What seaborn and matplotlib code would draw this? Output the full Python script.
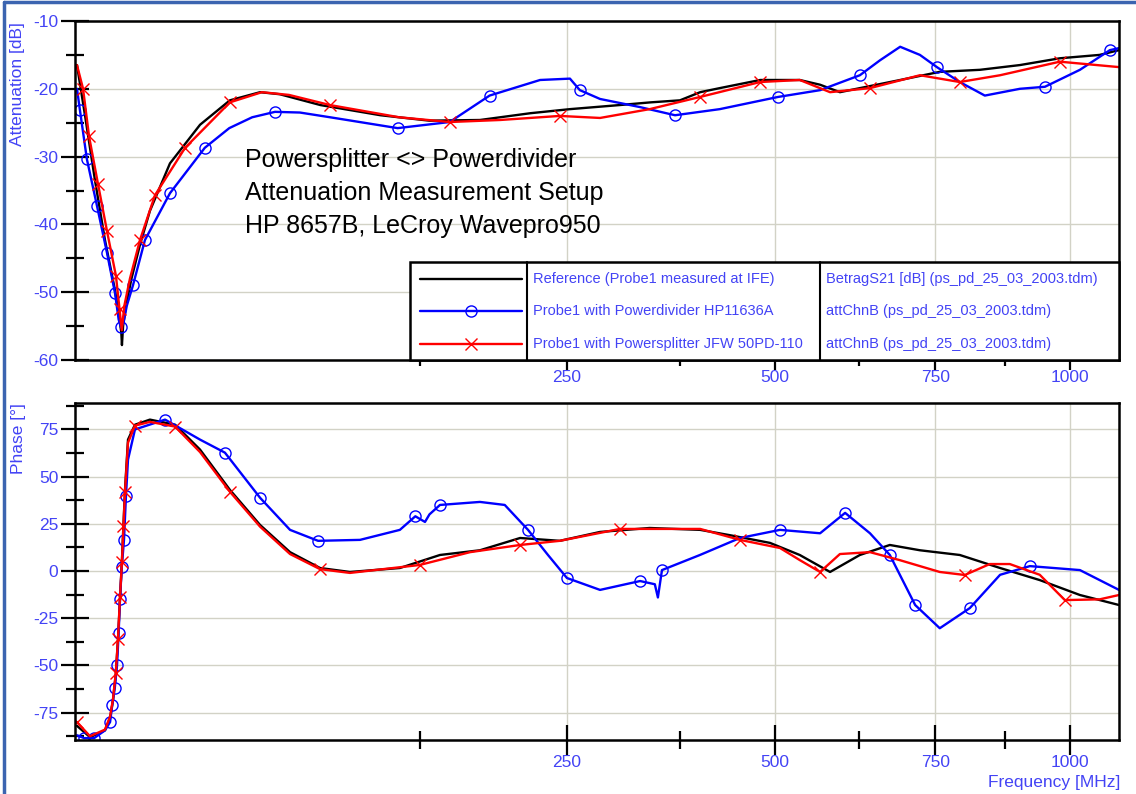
import numpy as np
import pandas as pd
import matplotlib
matplotlib.use("Agg")
import matplotlib.pyplot as plt
import seaborn as sns
from matplotlib.lines import Line2D
from matplotlib.patches import Rectangle
from matplotlib.ticker import FixedLocator, NullFormatter

sns.set_theme(style="white")
plt.rcParams["font.family"] = ["Liberation Sans", "DejaVu Sans"]
plt.rcParams["axes.unicode_minus"] = False

# ---------------- data (frequency in MHz) ----------------
att_ref_f = [0.167, 0.44, 0.95, 1.66, 2.57, 3.0, 3.25, 3.32, 3.45, 3.8, 4.5, 5.71, 7.3, 11.1, 18.3, 27.2, 38, 46, 65, 99,
             132, 171, 215, 253, 305, 340, 375, 400, 425, 479, 535, 565, 595, 626, 691, 758, 829, 903, 980, 1060, 1100]
att_ref_db = [-16.5, -24, -33.5, -42.3, -49.7, -53.5, -56, -57.8, -55, -52, -48, -43, -38, -31, -25.3, -21.7, -20.5, -20.8, -22.4, -23.9,
              -24.7, -24.6, -23.6, -23, -22.4, -22, -21.7, -20.5, -19.9, -18.7, -18.7, -19.4, -20.5, -19.9, -18.7, -17.5, -17.2, -16.5, -15.5, -15, -14.3]

att_pd_f = [0.167, 0.25, 0.52, 1.08, 1.83, 2.57, 2.95, 3.2, 3.5, 3.9, 4.7, 6.48, 11.1, 19.6, 27, 35, 44, 55, 70, 110,
            147, 179, 224, 253, 263, 284, 328, 369, 425, 504, 565, 626, 658, 691, 724, 753, 793, 838, 903, 951, 1020, 1081, 1100]
att_pd_db = [-20, -23.1, -30.4, -37.3, -44.2, -50.1, -54, -55.2, -54.5, -52, -49, -42.3, -35.4, -28.7, -25.8, -24.2, -23.4, -23.5, -24.2, -25.8,
             -24.9, -21, -18.7, -18.5, -20.2, -21.5, -22.7, -23.9, -23, -21.2, -20.2, -18, -15.8, -13.8, -15, -16.8, -19, -21, -20, -19.7, -17.2, -14.3, -14]
att_pd_marks = [0.25, 0.52, 1.08, 1.83, 2.57, 3.2, 4.7, 6.48, 11.1, 19.6, 44, 110, 179, 263, 369, 504, 626, 753, 951, 1081]

att_ps_f = [0.167, 0.36, 0.62, 1.14, 1.83, 2.67, 3.05, 3.3, 3.6, 4.3, 5.71, 8.18, 14.5, 27.2, 38.7, 50, 70, 111, 147, 188,
            243, 284, 339, 400, 479, 535, 580, 642, 724, 793, 866, 980, 1100]
att_ps_db = [-16.5, -20, -27, -34, -41, -47.6, -52.5, -55.6, -52, -48, -42.3, -35.7, -28.7, -22, -20.5, -20.9, -22.4, -24.2, -24.9, -24.6,
             -24, -24.3, -23, -21.2, -19, -18.7, -20.5, -19.9, -18, -19, -18, -16, -16.8]
att_ps_marks = [0.36, 0.62, 1.14, 1.83, 2.67, 3.05, 5.71, 8.18, 14.5, 27.2, 70, 147, 243, 400, 479, 642, 793, 980]

ph_ref_f = [0.167, 0.668, 1.66, 2.1, 2.37, 2.65, 2.88, 3.1, 3.32, 3.5, 3.68, 4.05, 4.98, 7.3, 12.2, 18.3, 27.2, 38, 50.5, 64.8,
            80.8, 111.5, 139.7, 171, 205.6, 243, 284, 339, 400, 438, 492.6, 535, 580, 626, 674, 724, 793, 866, 941, 1020, 1100]
ph_ref_deg = [-82, -88, -84.4, -78, -68.5, -55, -36.6, -15, 5.8, 25, 43, 69.6, 77.5, 80.2, 77.5, 64.3, 43, 24.4, 10, 1.6,
              -0.5, 1.6, 8.5, 11, 17.5, 16, 20.7, 22.8, 21.8, 19, 14.9, 8.5, -0.5, 8.5, 13.8, 11, 8.5, 1.6, -4.8, -12.7, -18]

ph_pd_f = [0.167, 0.4, 0.9, 1.66, 2.1, 2.3, 2.55, 2.78, 2.95, 3.1, 3.3, 3.56, 3.8, 4.05, 4.98, 10.1, 18.3, 25.6, 38, 50.5,
           63.8, 86.6, 111.5, 122, 128.8, 132, 139.7, 171, 192, 212.8, 231.5, 250, 284, 328, 345, 348.6, 353.4, 399.7, 451.6, 506.6,
           565, 603, 642, 674, 716, 758, 811, 866, 922, 1020, 1100]
ph_pd_deg = [-87, -88.5, -88.5, -84.4, -80, -71, -62, -50, -33, -15, 2, 16.5, 40, 59, 75, 80.2, 69.6, 62.7, 38.8, 21.8,
             16, 16.5, 21.8, 29, 26, 30, 35, 36.6, 35, 21.8, 8.5, -3.7, -10, -5.3, -7, -14, 0.5, 8.5, 17.5, 21.8,
             20, 30.8, 20, 8.5, -18, -30.3, -19.6, -2, 2.6, 0.5, -10]
ph_pd_marks = [0.4, 0.9, 2.1, 2.3, 2.55, 2.78, 2.95, 3.1, 3.3, 3.56, 3.8, 10.1, 25.6, 38, 63.8, 122, 139.7, 212.8, 250,
               328, 353.4, 506.6, 603, 674, 716, 811, 922]

ph_ps_f = [0.167, 0.668, 1.66, 2.1, 2.37, 2.65, 2.88, 3.1, 3.32, 3.5, 3.68, 4.05, 4.98, 7.3, 12.2, 18.3, 27.2, 38, 50.5, 64.8,
           80.8, 125, 163, 205.6, 243, 305.5, 400, 451.6, 506.6, 535, 565, 595, 642, 690, 758, 802, 847, 884, 941, 990, 1060, 1100]
ph_ps_deg = [-80, -87.5, -84, -77, -68, -54, -36, -14, 5, 24, 42, 68, 77, 79, 76.5, 63, 42, 23.5, 9, 1,
             -1, 3.2, 10, 13.8, 16, 22.3, 22.3, 16.5, 12.2, 5.8, -0.5, 9, 10, 5.8, -0.5, -2.1, 3.7, 3.7, -2, -15.4, -15, -12.7]
ph_ps_marks = [0.167, 2.65, 2.88, 3.1, 3.32, 3.5, 3.68, 4.98, 12.2, 27.2, 64.8, 125, 205.6, 305.5, 451.6, 565, 802, 990]

series_names = ["Reference (Probe1 measured at IFE)",
                "Probe1 with Powerdivider HP11636A",
                "Probe1 with Powersplitter JFW 50PD-110"]
series_sources = ["BetragS21 [dB] (ps_pd_25_03_2003.tdm)",
                  "attChnB (ps_pd_25_03_2003.tdm)",
                  "attChnB (ps_pd_25_03_2003.tdm)"]
annotation_lines = ["Powersplitter <> Powerdivider",
                    "Attenuation Measurement Setup",
                    "HP 8657B, LeCroy Wavepro950"]
x_major = [250, 500, 750, 1000]
x_minor = [125, 375, 625, 875]

# ---------------- styling ----------------
W, H = 1136, 794
TXT = "#4343f5"
GRID = "#d2d2c6"
fig = plt.figure(figsize=(W / 100, H / 100), dpi=100)
fig.patch.set_facecolor("white")

def fx(px):
    return px / W

def fy(py):
    return 1 - py / H

ax1 = fig.add_axes([fx(75), fy(360), fx(1119) - fx(75), fy(21) - fy(360)])
ax2 = fig.add_axes([fx(75), fy(740), fx(1119) - fx(75), fy(403) - fy(740)])

def fwd(x):
    return np.sqrt(np.clip(x, 0, None))

def inv(x):
    return np.square(x)

def draw(ax, f, v, color, marker=None, marks=None):
    kw = {}
    if marker is not None:
        farr = np.asarray(f)
        idx = sorted(set(int(np.argmin(np.abs(farr - m))) for m in marks))
        kw = dict(marker=marker, markevery=idx, markersize=8,
                  markerfacecolor="none", markeredgecolor=color, markeredgewidth=1.0)
    df = pd.DataFrame({"f": f, "v": v})
    sns.lineplot(data=df, x="f", y="v", ax=ax, color=color, lw=1.7, sort=False,
                 estimator=None, legend=False, **kw)

# top panel curves
draw(ax1, att_ref_f, att_ref_db, "black")
draw(ax1, att_pd_f, att_pd_db, "#0000ff", "o", att_pd_marks)
draw(ax1, att_ps_f, att_ps_db, "#ff0000", "x", att_ps_marks)
# bottom panel curves
draw(ax2, ph_ref_f, ph_ref_deg, "black")
draw(ax2, ph_pd_f, ph_pd_deg, "#0000ff", "o", ph_pd_marks)
draw(ax2, ph_ps_f, ph_ps_deg, "#ff0000", "x", ph_ps_marks)

for ax in (ax1, ax2):
    ax.set_xscale("function", functions=(fwd, inv))
    ax.set_xlim(0.12, 1100)
    ax.xaxis.set_major_locator(FixedLocator(x_major))
    ax.xaxis.set_minor_locator(FixedLocator(x_minor))
    ax.xaxis.set_minor_formatter(NullFormatter())
    ax.grid(True, which="major", color=GRID, lw=1.0)
    ax.set_axisbelow(True)
    for s in ax.spines.values():
        s.set_color("black")
        s.set_linewidth(1.8)
        s.set_zorder(4)
    ax.tick_params(axis="both", which="both", colors="black", labelcolor=TXT, labelsize=12.5, width=1.6,
                   bottom=True, left=True, top=False, right=False)
    ax.set_xlabel("")
    ax.set_ylabel("")
    for ln in ax.lines:
        ln.set_clip_on(True)
        ln.set_clip_box(ax.bbox)

ax1.set_ylim(-60, -10)
ax1.set_yticks(np.arange(-60, -9, 10))
ax1.set_yticks(np.arange(-55, -10, 10), minor=True)
ax1.tick_params(axis="y", which="major", direction="inout", length=20, pad=2)
ax1.tick_params(axis="y", which="minor", direction="inout", length=13)
ax1.tick_params(axis="x", which="major", direction="out", length=7, pad=0)
ax1.tick_params(axis="x", which="minor", direction="out", length=4)

ax2.set_ylim(-89.5, 89)
ax2.set_yticks(np.arange(-75, 76, 25))
ax2.set_yticks(np.arange(-87.5, 88, 25), minor=True)
ax2.tick_params(axis="y", which="major", direction="inout", length=20, pad=2)
ax2.tick_params(axis="y", which="minor", direction="inout", length=13)
ax2.tick_params(axis="x", which="major", direction="inout", length=22, pad=0)
ax2.tick_params(axis="x", which="minor", direction="inout", length=13)

# annotation text
for i, line in enumerate(annotation_lines):
    fig.text(fx(245), fy(160 + 33 * i), line, fontsize=18, color="black", ha="left", va="center")

# axis labels
fig.text(fx(18), fy(22), "Attenuation [dB]", rotation=90, ha="center", va="top", color=TXT, fontsize=12.5)
fig.text(fx(18), fy(403), "Phase [°]", rotation=90, ha="center", va="top", color=TXT, fontsize=12.5)
fig.text(fx(1120), fy(783), "Frequency [MHz]", ha="right", va="center", color=TXT, fontsize=12.5)

# legend table
box = Rectangle((fx(410), fy(360)), fx(1119) - fx(410), fy(262) - fy(360), transform=fig.transFigure,
                facecolor="white", edgecolor="black", lw=1.8, zorder=5)
fig.patches.append(box)
for xs in (527, 820):
    fig.lines.append(Line2D([fx(xs), fx(xs)], [fy(262), fy(360)], transform=fig.transFigure, color="black", lw=1.5, zorder=6))
row_y = [279, 311, 344]
colors = ["black", "#0000ff", "#ff0000"]
mk = [None, "o", "x"]
for i in range(3):
    fig.lines.append(Line2D([fx(420), fx(522)], [fy(row_y[i])] * 2, transform=fig.transFigure,
                            color=colors[i], lw=1.7, zorder=7))
    if mk[i]:
        fig.lines.append(Line2D([fx(471)], [fy(row_y[i])], transform=fig.transFigure, marker=mk[i],
                                markersize=8, markerfacecolor="none", markeredgecolor=colors[i], lw=0, zorder=7))
    fig.text(fx(533), fy(row_y[i]), series_names[i], color=TXT, fontsize=10.5, va="center", ha="left", zorder=8)
    fig.text(fx(826), fy(row_y[i]), series_sources[i], color=TXT, fontsize=10.5, va="center", ha="left", zorder=8)

# outer window frame (left and top)
fig.lines.append(Line2D([fx(4), fx(4)], [0, fy(2)], transform=fig.transFigure, color="#3b64b0", lw=2.5))
fig.lines.append(Line2D([fx(4), 1], [fy(2), fy(2)], transform=fig.transFigure, color="#3b64b0", lw=2.5))

fig.savefig("out.png", dpi=100)
